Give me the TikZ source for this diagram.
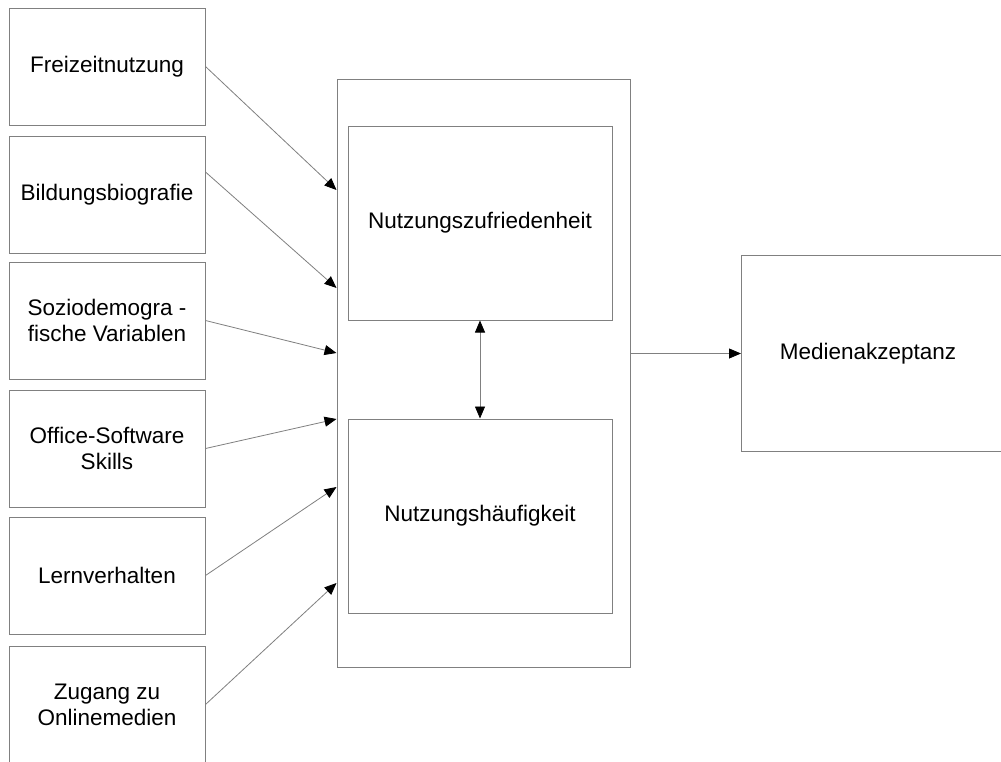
\documentclass[tikz,border=0pt]{standalone}
\usepackage{fontspec}
\setmainfont{Liberation Sans}
\usetikzlibrary{arrows.meta}
\definecolor{linegray}{RGB}{128,128,128}
\begin{document}
\begin{tikzpicture}[x=1pt,y=-1pt,
  box/.style={draw=linegray, line width=1pt, inner sep=0pt, align=center,
    font=\fontsize{22.5}{26}\selectfont},
  lbox/.style={box, minimum width=196pt, minimum height=117pt},
  ibox/.style={box, minimum width=264pt, minimum height=194pt},
  lbl/.style={inner sep=0pt, font=\fontsize{22.5}{26}\selectfont},
  conn/.style={draw=linegray, line width=0.8pt,
    -{Triangle[length=12pt,width=10pt,color=black,fill=black]}},
  dconn/.style={draw=linegray, line width=0.8pt,
    {Triangle[length=12pt,width=10pt,color=black,fill=black]}-{Triangle[length=12pt,width=10pt,color=black,fill=black]}}
]
\useasboundingbox (0,0) rectangle (1001,761);
\clip (0,0) rectangle (1001,761);
\fill[white] (0,0) rectangle (1001,761);

% left boxes
\node[lbox] (b1) at (107,66.5) {Freizeitnutzung};
\node[lbox] (b2) at (107,194.5) {Bildungsbiografie};
\node[lbox] (b3) at (107,320.5) {Soziodemogra -\\fische Variablen};
\node[lbox] (b4) at (107,448.5) {Office-Software\\Skills};
\node[lbox] (b5) at (107,575.5) {Lernverhalten};
\node[lbox] (b6) at (107,704.5) {Zugang zu\\Onlinemedien};

% middle container
\node[box, minimum width=293pt, minimum height=588pt] (big) at (483.5,373) {};
\node[ibox] (zuf) at (480,223) {Nutzungszufriedenheit};
\node[ibox] (hau) at (480,516) {Nutzungshäufigkeit};

% right box (extends beyond the right margin)
\node[box, minimum width=290pt, minimum height=196pt, anchor=north west] (med) at (741,255) {};
\node[lbl] (medtext) at (868,354) {Medienakzeptanz};

% target points on the container's left edge
\coordinate (t1) at (big.west |- 0,190);
\coordinate (t2) at (big.west |- 0,288);
\coordinate (t3) at (big.west |- 0,353);
\coordinate (t4) at (big.west |- 0,419);
\coordinate (t5) at (big.west |- 0,487);
\coordinate (t6) at (big.west |- 0,583);
\coordinate (s2) at (b2.east |- 0,172);

\draw[conn] (b1.east) -- (t1);
\draw[conn] (s2) -- (t2);
\draw[conn] (b3.east) -- (t3);
\draw[conn] (b4.east) -- (t4);
\draw[conn] (b5.east) -- (t5);
\draw[conn] (b6.east) -- (t6);

\draw[dconn] (zuf.south) -- (hau.north);
\draw[conn] (big.east |- med.west) -- (med.west);
\end{tikzpicture}
\end{document}
